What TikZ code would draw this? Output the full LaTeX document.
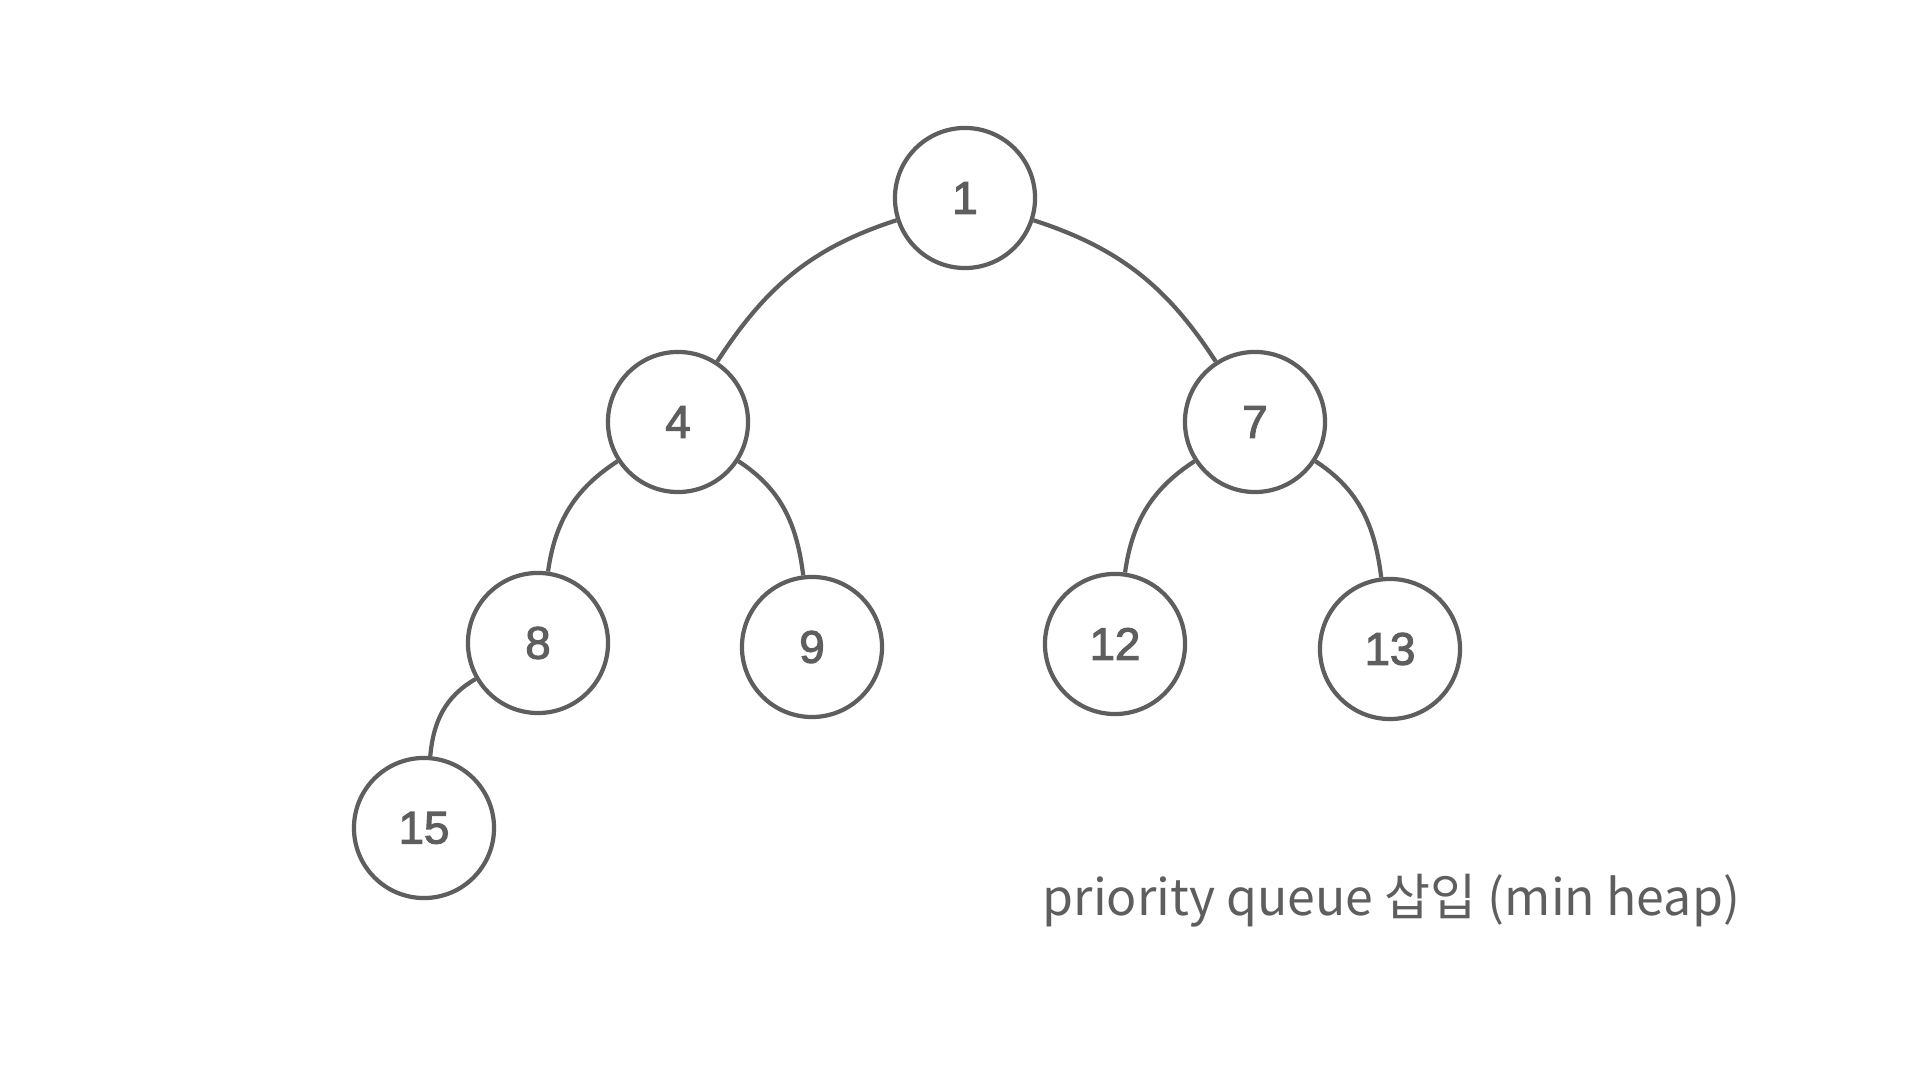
\documentclass[tikz,border=0pt]{standalone}
\usepackage{fontspec}
\setmainfont{Liberation Sans}
\newfontfamily\numfont{Liberation Sans}[FakeBold=2.4]
\newfontfamily\krfont{Noto Sans CJK KR}
\definecolor{ink}{HTML}{5E5E5E}
\begin{document}
\begin{tikzpicture}[x=0.01cm,y=-0.01cm,
  heapnode/.style={circle,draw=ink,line width=1.2pt,minimum size=1.4cm,inner sep=0pt,
    text=ink,font=\numfont\fontsize{13}{15}\selectfont},
  link/.style={draw=ink,line width=1.2pt}]
\useasboundingbox (0,0) rectangle (1920,1080);
\fill[white] (0,0) rectangle (1920,1080);
\node[heapnode] (n1) at (965,198) {\raisebox{-2pt}{1}};
\node[heapnode] (n4) at (678,422) {\raisebox{-1pt}{4}};
\node[heapnode] (n7) at (1255,422) {\raisebox{-1pt}{7}};
\node[heapnode] (n8) at (538,643) {\raisebox{-1pt}{8}};
\node[heapnode] (n9) at (812,647) {\raisebox{-1pt}{9}};
\node[heapnode] (n12) at (1115,644) {\raisebox{-1pt}{12}};
\node[heapnode] (n13) at (1390,649) {\raisebox{-1pt}{13}};
\node[heapnode] (n15) at (424,828) {\raisebox{-1pt}{15}};
\draw[link] (n1) to[out=198,in=57] (n4);
\draw[link] (n1) to[out=-18,in=123] (n7);
\draw[link] (n4) to[out=213,in=82] (n8);
\draw[link] (n4) to[out=-33,in=97] (n9);
\draw[link] (n7) to[out=213,in=82] (n12);
\draw[link] (n7) to[out=-33,in=97] (n13);
\draw[link] (n8) to[out=210,in=85] (n15);
\node[anchor=base west,inner sep=0pt,text=ink,font=\krfont\fontsize{14.22}{16}\selectfont] (lbl) at (1042,916) {priority queue 삽입 (min heap)};
\end{tikzpicture}
\end{document}
